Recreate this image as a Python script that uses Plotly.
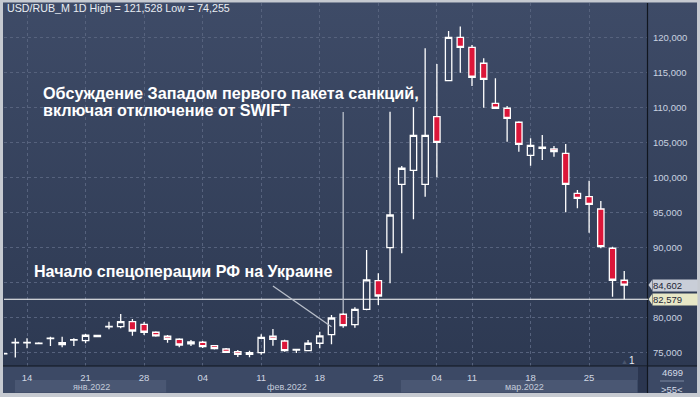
import base64
import plotly.graph_objects as go

# ---------------- data ----------------
dates = [
    "2022-01-12", "2022-01-13", "2022-01-14",
    "2022-01-17", "2022-01-18", "2022-01-19", "2022-01-20", "2022-01-21",
    "2022-01-24", "2022-01-25", "2022-01-26", "2022-01-27", "2022-01-28",
    "2022-01-31", "2022-02-01", "2022-02-02", "2022-02-03", "2022-02-04",
    "2022-02-07", "2022-02-08", "2022-02-09", "2022-02-10", "2022-02-11",
    "2022-02-14", "2022-02-15", "2022-02-16", "2022-02-17", "2022-02-18",
    "2022-02-21", "2022-02-22", "2022-02-23", "2022-02-24", "2022-02-25",
    "2022-02-28", "2022-03-01", "2022-03-02", "2022-03-03", "2022-03-04",
    "2022-03-09", "2022-03-10", "2022-03-11",
    "2022-03-14", "2022-03-15", "2022-03-16", "2022-03-17", "2022-03-18",
    "2022-03-21", "2022-03-22", "2022-03-23", "2022-03-24", "2022-03-25",
    "2022-03-28", "2022-03-29", "2022-03-30",
]
opens = [
    74.78, 76.33, 76.33,
    76.25, 76.97, 76.09, 76.73, 76.66,
    77.25, 78.62, 78.66, 79.37, 79.00,
    77.86, 77.29, 76.86, 76.19, 76.43,
    75.94, 75.47, 75.09, 74.71, 74.94,
    77.29, 76.61, 75.30, 75.23, 76.29,
    77.52, 80.43, 78.94, 81.14, 85.23,
    89.95, 99.00, 101.00, 99.00, 108.66,
    113.80, 120.00, 118.57,
    116.29, 110.57, 109.86, 107.86, 103.14,
    104.15, 104.04, 103.43, 97.71, 97.23,
    95.47, 89.86, 85.29,
]
highs = [
    74.95, 77.00, 77.00,
    76.45, 77.23, 77.23, 77.00, 77.62,
    77.45, 79.37, 80.47, 79.76, 79.33,
    78.00, 77.47, 77.00, 76.76, 76.60,
    76.05, 75.60, 75.33, 75.23, 77.57,
    78.33, 76.80, 75.45, 76.76, 77.94,
    80.33, 80.66, 81.43, 89.61, 86.29,
    109.37, 101.61, 110.00, 118.43, 116.19,
    120.90, 121.528, 118.90,
    117.00, 114.14, 110.19, 108.00, 105.57,
    106.04, 104.47, 104.76, 98.19, 99.51,
    96.61, 90.09, 86.61,
]
lows = [
    74.65, 74.255, 75.57,
    76.15, 75.90, 75.71, 75.90, 76.29,
    77.20, 78.29, 78.43, 77.37, 77.47,
    77.23, 76.37, 75.71, 75.90, 75.60,
    75.40, 74.90, 74.33, 74.30, 74.66,
    75.94, 75.09, 74.90, 75.14, 75.57,
    76.14, 78.52, 78.52, 81.00, 81.76,
    84.86, 89.14, 94.00, 97.23, 100.00,
    113.80, 114.94, 113.04,
    109.94, 109.86, 105.09, 103.66, 101.66,
    102.47, 102.94, 95.00, 95.57, 92.09,
    89.86, 82.94, 82.57,
]
closes = [
    74.82, 76.40, 76.40,
    76.32, 77.03, 76.37, 76.79, 77.43,
    77.42, 78.69, 79.37, 78.04, 77.86,
    77.33, 76.86, 76.04, 76.47, 75.80,
    75.51, 75.00, 74.71, 74.94, 77.14,
    76.86, 75.23, 75.40, 76.29, 77.33,
    79.90, 78.80, 81.14, 85.33, 83.04,
    94.61, 101.29, 106.00, 106.00, 105.00,
    120.00, 118.57, 114.29,
    114.00, 109.86, 108.43, 104.71, 104.57,
    104.30, 103.66, 99.00, 97.00, 96.14,
    90.09, 85.29, 84.602,
]
level_line = 82.579

tick_dates = ["2022-01-14", "2022-01-21", "2022-01-28", "2022-02-04", "2022-02-11",
              "2022-02-18", "2022-02-25", "2022-03-04", "2022-03-11", "2022-03-18",
              "2022-03-25"]
tick_labels = [d[-2:] for d in tick_dates]
y_ticks = [75, 80, 85, 90, 95, 100, 105, 110, 115, 120]
# the 85,000 label sits under the last-price tag in the original, so it is left blank
y_tick_labels = ["" if v == 85 else f"{v:.3f}".replace(".", ",") for v in y_ticks]

month_labels = ["янв.2022", "фев.2022", "мар.2022"]
month_centers = [7.5, 24.2, 44.5]

title_text = "USD/RUB_M 1D"
note_sanctions = ["Обсуждение Западом первого пакета санкций,", "включая отключение от SWIFT"]
note_operation = "Начало спецоперации РФ на Украине"
sanctions_idx = 29
operation_idx = 28

# ---------------- geometry helpers ----------------
W, H = 700, 397
ML, MR, MT, MB = 4, 53, 3, 31
PW, PH = W - ML - MR, H - MT - MB
Y_RANGE = [73.04, 124.9]
X_RANGE = [0.034, 54.944]
u_per_px = (Y_RANGE[1] - Y_RANGE[0]) / PH


def px_x(x):
    return (x - ML) / PW


def px_y(y):
    return (H - MB - y) / PH


def fmt(v):
    return f"{v:.3f}".replace(".", ",")


FONT = "Liberation Sans, Arial, sans-serif"

fig = go.Figure()
fig.add_trace(go.Candlestick(
    x=dates, open=opens, high=highs, low=lows, close=closes,
    increasing=dict(line=dict(color="#ffffff", width=1.3), fillcolor="rgba(0,0,0,0)"),
    decreasing=dict(line=dict(color="#ffffff", width=1.3), fillcolor="#dc1639"),
    whiskerwidth=0, showlegend=False, hoverinfo="skip",
))

# gradient background image
svg = ("<svg xmlns='http://www.w3.org/2000/svg' width='10' height='100' preserveAspectRatio='none'>"
       "<defs><linearGradient id='g' x1='0' y1='0' x2='0' y2='1'>"
       "<stop offset='0' stop-color='#3e4b67'/><stop offset='1' stop-color='#2d3952'/>"
       "</linearGradient></defs><rect width='10' height='100' fill='url(#g)'/></svg>")
src = "data:image/svg+xml;base64," + base64.b64encode(svg.encode()).decode()

shapes = []
border_col = "#c6cad1"
# bottom axis panel
shapes.append(dict(type="rect", xref="paper", yref="paper", x0=px_x(3), x1=px_x(697),
                   y0=px_y(393), y1=px_y(366), fillcolor="#3c4965", line=dict(width=0), layer="below"))
# month bands
shapes.append(dict(type="rect", xref="x", yref="paper", x0=0.97, x1=13.88,
                   y0=px_y(392.5), y1=px_y(380), fillcolor="#4a5773", line=dict(width=0), layer="below"))
shapes.append(dict(type="rect", xref="x", yref="paper", x0=33.93, x1=54.1,
                   y0=px_y(392.5), y1=px_y(380), fillcolor="#4a5773", line=dict(width=0), layer="below"))
# scroll block
shapes.append(dict(type="rect", xref="paper", yref="paper", x0=px_x(638), x1=px_x(647),
                   y0=px_y(392.5), y1=px_y(367), fillcolor="#2b3650", line=dict(width=0), layer="below"))
# separators
shapes.append(dict(type="line", xref="paper", yref="paper", x0=px_x(3), x1=px_x(697),
                   y0=px_y(366), y1=px_y(366), line=dict(color="#11161f", width=1.2)))
shapes.append(dict(type="line", xref="paper", yref="paper", x0=px_x(647.5), x1=px_x(647.5),
                   y0=px_y(393), y1=px_y(3), line=dict(color="#11161f", width=1.2)))
shapes.append(dict(type="line", xref="paper", yref="paper", x0=px_x(660), x1=px_x(684),
                   y0=px_y(381), y1=px_y(381), line=dict(color="#7d8aa3", width=1)))
# level line
shapes.append(dict(type="line", xref="paper", yref="y", x0=0, x1=px_x(648),
                   y0=level_line, y1=level_line, line=dict(color="#ffffff", width=1.2)))
# annotation pointer lines
shapes.append(dict(type="line", xref="x", yref="y", x0=sanctions_idx, x1=sanctions_idx,
                   y0=109.33, y1=highs[sanctions_idx], line=dict(color="#b9bfca", width=1.3)))
shapes.append(dict(type="line", xref="x", yref="y", x0=23.0, x1=operation_idx,
                   y0=84.47, y1=78.66, line=dict(color="#b9bfca", width=1.3)))
# price tag notches
for val, col in [(closes[-1], "#c9ced8"), (level_line, "#e7e7c6")]:
    d = 5 * u_per_px
    shapes.append(dict(type="path", xref="paper", yref="y",
                       path=f"M {px_x(652)},{val - d} L {px_x(648.5)},{val} L {px_x(652)},{val + d} Z",
                       fillcolor=col, line=dict(width=0)))
# outer light border
for (x0, x1, y0, y1) in [(0, 3, 0, 397), (697, 700, 0, 397), (0, 700, 0, 2.5), (0, 700, 393, 397)]:
    shapes.append(dict(type="rect", xref="paper", yref="paper", x0=px_x(x0), x1=px_x(x1),
                       y0=px_y(y1), y1=px_y(y0), fillcolor=border_col, line=dict(width=0), layer="above"))

annotations = []
annotations.append(dict(xref="paper", yref="paper", x=px_x(5), y=px_y(8.5), xanchor="left", yanchor="middle",
                        text=f"{title_text} High = {fmt(max(highs))} Low = {fmt(min(lows))}",
                        showarrow=False, font=dict(family=FONT, size=10.7, color="#e9edf3")))
for txt, yc in zip(note_sanctions, [92.5, 110.3]):
    annotations.append(dict(xref="paper", yref="paper", x=px_x(41), y=px_y(yc), xanchor="left",
                            yanchor="middle", text=f"<b>{txt}</b>", showarrow=False,
                            font=dict(family=FONT, size=16.2, color="#ffffff")))
annotations.append(dict(xref="paper", yref="paper", x=px_x(32), y=px_y(271.3), xanchor="left",
                        yanchor="middle", text=f"<b>{note_operation}</b>", showarrow=False,
                        font=dict(family=FONT, size=16.1, color="#ffffff")))
for lbl, c in zip(month_labels, month_centers):
    annotations.append(dict(xref="x", yref="paper", x=c, y=px_y(387), xanchor="center", yanchor="middle",
                            text=lbl, showarrow=False, font=dict(family=FONT, size=9, color="#c3cbda")))
for val, col in [(closes[-1], "#c9ced8"), (level_line, "#e7e7c6")]:
    annotations.append(dict(xref="paper", yref="y", x=px_x(651.5), y=val, xanchor="left", yanchor="middle",
                            text=fmt(val), showarrow=False, bgcolor=col, borderpad=0, width=44, height=11,
                            align="left", font=dict(family=FONT, size=9.5, color="#1d2536")))
annotations.append(dict(xref="paper", yref="paper", x=px_x(672), y=px_y(380), xanchor="center",
                        yanchor="bottom", text="4699", showarrow=False,
                        font=dict(family=FONT, size=9.5, color="#d3dae6")))
annotations.append(dict(xref="paper", yref="paper", x=px_x(672), y=px_y(382), xanchor="center",
                        yanchor="top", text="&gt;55&lt;", showarrow=False,
                        font=dict(family=FONT, size=9.5, color="#d3dae6")))
annotations.append(dict(xref="paper", yref="paper", x=px_x(632), y=px_y(360.5), xanchor="center",
                        yanchor="middle", text="1", showarrow=False,
                        font=dict(family=FONT, size=10, color="#e6eaf0")))
annotations.append(dict(xref="paper", yref="paper", x=px_x(624), y=px_y(361), xanchor="center",
                        yanchor="middle", text="▲", showarrow=False,
                        font=dict(family=FONT, size=7, color="#4a566e")))

fig.update_layout(
    width=W, height=H,
    margin=dict(l=ML, r=MR, t=MT, b=MB, pad=0),
    paper_bgcolor="#3a4763",
    plot_bgcolor="rgba(0,0,0,0)",
    separators=", ",
    boxgap=0.22,
    font=dict(family=FONT, color="#c9d1df"),
    images=[dict(source=src, xref="paper", yref="paper", x=px_x(3), y=px_y(2.5),
                 sizex=px_x(697) - px_x(3), sizey=px_y(2.5) - px_y(366), sizing="stretch",
                 xanchor="left", yanchor="top", layer="below")],
    shapes=shapes,
    annotations=annotations,
    xaxis=dict(type="category", range=X_RANGE, rangeslider=dict(visible=False),
               tickmode="array", tickvals=tick_dates, ticktext=tick_labels,
               showgrid=True, gridcolor="#56627d", griddash="3px,3px", gridwidth=1,
               ticks="outside", ticklen=3, tickcolor="rgba(0,0,0,0)",
               tickfont=dict(family=FONT, size=9.5, color="#d0d7e3"),
               showline=False, zeroline=False, fixedrange=True),
    yaxis=dict(side="right", range=Y_RANGE, tickmode="array", tickvals=y_ticks, ticktext=y_tick_labels,
               showgrid=True, gridcolor="#56627d", griddash="3px,3px", gridwidth=1,
               ticks="outside", ticklen=3, tickcolor="rgba(0,0,0,0)",
               tickfont=dict(family=FONT, size=9.5, color="#cad2e0"),
               showline=False, zeroline=False, fixedrange=True),
)

fig.write_html(
    "out.html",
    config={"displayModeBar": False, "staticPlot": True},
    post_script="document.body.style.margin='0';document.body.style.padding='0';document.body.style.overflow='hidden';",
)
